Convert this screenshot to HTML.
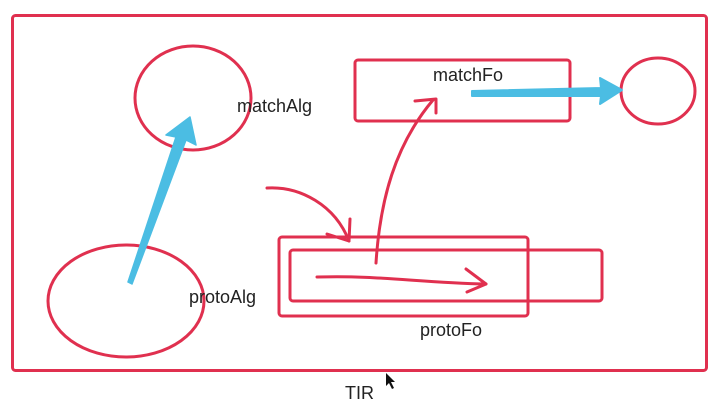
<!DOCTYPE html>
<html><head><style>
html,body{margin:0;padding:0;background:#fff;}
svg{display:block;}
text{font-family:"Liberation Sans",sans-serif;font-size:18px;fill:#222;}
</style></head><body>
<svg width="716" height="408" viewBox="0 0 716 408">
<g fill="none" stroke="#e0304f" stroke-width="3" stroke-linecap="round" stroke-linejoin="round">
<rect x="12.5" y="15.5" width="694" height="355" rx="3"/>
<ellipse cx="193" cy="98" rx="58" ry="52"/>
<ellipse cx="126" cy="301" rx="78" ry="56"/>
<rect x="355" y="60" width="215" height="61" rx="3"/>
<ellipse cx="658" cy="91" rx="37" ry="33"/>
<rect x="279" y="237" width="249" height="79" rx="3"/>
<rect x="290" y="250" width="312" height="51" rx="3"/>
<path d="M267 188 C300 186 335 205 349 241"/>
<path d="M327 234 L349 241 L350 219"/>
<path d="M376 263 C380 200 395 145 433 100"/>
<path d="M415 101 L436 99 L436 113"/>
<path d="M317 277 C380 275 420 283 486 284"/>
<path d="M466 269 L486 284 L467 292"/>
</g>
<path d="M128 282 L132 284 L186 140 L196 145 L190 117 L166 135 L176 137 Z" fill="#4bbde3" stroke="#4bbde3" stroke-width="1.5" stroke-linejoin="round"/>
<path d="M472 91 L601 88 L600 78 L622 90 L600 104 L601 96 L472 96 Z" fill="#4bbde3" stroke="#4bbde3" stroke-width="2" stroke-linejoin="round"/>
<text x="433" y="81">matchFo</text>
<text x="237" y="112">matchAlg</text>
<text x="189" y="303">protoAlg</text>
<text x="420" y="336">protoFo</text>
<text x="345" y="399">TIR</text>
<path d="M386 373 L386 386 L389 383 L392 389 L394 388 L391 382 L395 382 Z" fill="#111"/>
</svg>
</body></html>
